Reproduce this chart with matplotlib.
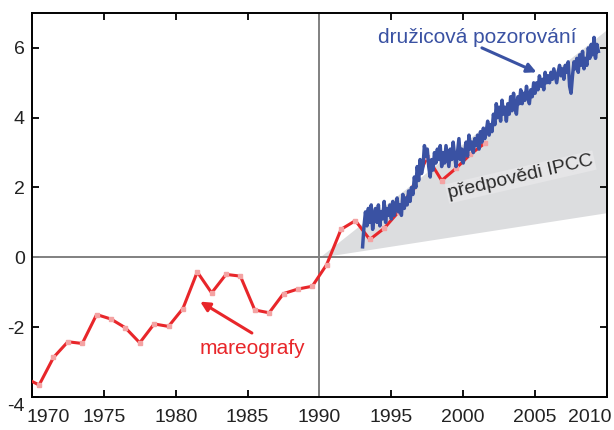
import numpy as np
import matplotlib
matplotlib.use("Agg")
import matplotlib.pyplot as plt
from matplotlib.transforms import ScaledTranslation

plt.rcParams['font.family'] = ['Liberation Sans', 'DejaVu Sans']
plt.rcParams['axes.unicode_minus'] = False

# mareografy (tide gauges), yearly means
tide_years = [1969.5, 1970.5, 1971.5, 1972.5, 1973.5, 1974.5, 1975.5, 1976.5, 1977.5,
              1978.5, 1979.5, 1980.5, 1981.5, 1982.5, 1983.5, 1984.5, 1985.5, 1986.5,
              1987.5, 1988.5, 1989.5, 1990.5, 1991.5, 1992.5, 1993.5, 1994.5, 1995.5,
              1996.5, 1997.5, 1998.5, 1999.5, 2000.5, 2001.5]
tide_vals = [-3.45, -3.66, -2.87, -2.42, -2.47, -1.64, -1.77, -2.02, -2.45,
             -1.91, -1.98, -1.47, -0.42, -1.02, -0.49, -0.54, -1.51, -1.59,
             -1.04, -0.91, -0.83, -0.21, 0.80, 1.05, 0.51, 0.83, 1.30,
             2.00, 2.87, 2.20, 2.55, 2.95, 3.27]

# druzicova pozorovani (satellite altimetry), every 0.1 yr from 1993.0
sat_start = 1993.0
sat_vals = [
    0.3, 0.9, 1.3, 0.9, 1.4, 1.0, 1.5, 0.8, 1.2, 1.4,
    1.0, 1.5, 0.9, 1.3, 1.1, 1.6, 1.0, 1.4, 1.2, 1.5,
    1.1, 1.6, 1.2, 1.4, 1.7, 1.3, 1.5, 1.2, 1.8, 1.4,
    1.7, 1.5, 1.9, 1.6, 2.0, 1.8, 2.3, 2.0, 2.6, 2.2,
    2.8, 2.4, 2.6, 3.2, 2.9, 3.1, 2.6, 2.3, 2.8, 2.5,
    3.0, 2.7, 3.1, 2.8, 3.2, 2.6, 3.0, 2.7, 3.2, 2.9,
    2.6, 3.1, 2.8, 3.3, 2.9, 2.6, 3.0, 3.4, 2.8, 3.1,
    2.7, 3.0, 3.3, 2.9, 3.5, 3.1, 3.3, 3.0, 3.4, 3.2,
    3.5, 3.1, 3.6, 3.3, 3.7, 3.4, 3.6, 3.9, 3.5, 3.8,
    3.6, 4.1, 3.8, 4.4, 4.0, 4.3, 3.9, 4.5, 4.1, 4.3,
    3.9, 4.4, 4.1, 4.6, 4.2, 4.7, 4.3, 4.1, 4.6, 4.4,
    4.8, 4.4, 4.7, 4.5, 4.9, 4.6, 4.4, 4.8, 4.6, 5.0,
    4.7, 5.0, 4.8, 5.2, 4.9, 5.1, 4.8, 5.3, 5.0, 5.2,
    5.0, 5.3, 5.1, 5.4, 5.2, 5.0, 5.3, 5.5, 5.2, 5.4,
    5.1, 5.5, 5.3, 5.6, 4.9, 4.7, 5.2, 5.6, 5.4, 5.7,
    5.3, 5.8, 5.5, 5.9, 5.4, 5.7, 5.5, 6.0, 5.7, 6.1,
    5.8, 6.3, 5.7, 6.1, 5.9]
sat_years = sat_start + 0.1 * np.arange(len(sat_vals))

# IPCC projection envelope
ipcc_years = [1990, 2010]
ipcc_low = [0.0, 1.28]
ipcc_high = [0.0, 6.53]

xticks = [1970, 1975, 1980, 1985, 1990, 1995, 2000, 2005, 2010]
yticks = [-4, -2, 0, 2, 4, 6]

red = '#e8262a'
blue = '#3a52a3'

fig = plt.figure(figsize=(6.14, 4.30), dpi=100)
ax = fig.add_axes([0.052, 0.077, 0.9366, 0.8928])

ax.fill_between(ipcc_years, ipcc_low, ipcc_high, color='#dcdddf', lw=0, zorder=1)
ax.axhline(0, color='#808080', lw=1.4, zorder=2)
ax.axvline(1990, color='#808080', lw=1.4, zorder=2)

ax.plot(tide_years, tide_vals, color=red, lw=2.2, zorder=3,
        marker='s', ms=3.5, mfc='#f4a3a3', mec='#f4a3a3')
ax.plot(sat_years, sat_vals, color=blue, lw=2.5, zorder=4)

ax.text(2004.0, 2.3, 'předpovědi IPCC', rotation=13, ha='center', va='center',
        fontsize=14, color='#2a2a2a', zorder=5,
        bbox=dict(facecolor='#e5e5e7', edgecolor='none', pad=1))

ax.text(2001.0, 6.3, 'družicová pozorování', ha='center', va='center',
        fontsize=15, color=blue, zorder=6)
ax.annotate('', xy=(2005.1, 5.3), xytext=(2001.3, 6.0),
            arrowprops=dict(arrowstyle='-|>', color=blue, lw=2.2,
                            mutation_scale=14, shrinkA=0, shrinkB=0), zorder=6)
ax.text(1985.35, -2.6, 'mareografy', ha='center', va='center',
        fontsize=15, color=red, zorder=6)
ax.annotate('', xy=(1981.7, -1.27), xytext=(1985.3, -2.17),
            arrowprops=dict(arrowstyle='-|>', color=red, lw=2.2,
                            mutation_scale=14, shrinkA=0, shrinkB=0), zorder=6)

ax.set_xlim(1970, 2010)
ax.set_ylim(-4, 7)
ax.set_xticks(xticks)
ax.set_yticks(yticks)
ax.tick_params(direction='in', length=5, width=1.3, top=True, right=True,
               labelsize=14, labelcolor='#222222')
ax.tick_params(axis='x', pad=9)
ax.tick_params(axis='y', pad=5)
for s in ax.spines.values():
    s.set_linewidth(1.4)

# end labels nudged inward like the original
xlabs = ax.get_xticklabels()
xlabs[0].set_transform(xlabs[0].get_transform() + ScaledTranslation(16 / 100, 0, fig.dpi_scale_trans))
xlabs[-1].set_transform(xlabs[-1].get_transform() + ScaledTranslation(-17 / 100, 0, fig.dpi_scale_trans))
ylabs = ax.get_yticklabels()
ylabs[0].set_transform(ylabs[0].get_transform() + ScaledTranslation(0, -8 / 100, fig.dpi_scale_trans))

fig.savefig('out.png', dpi=100)
